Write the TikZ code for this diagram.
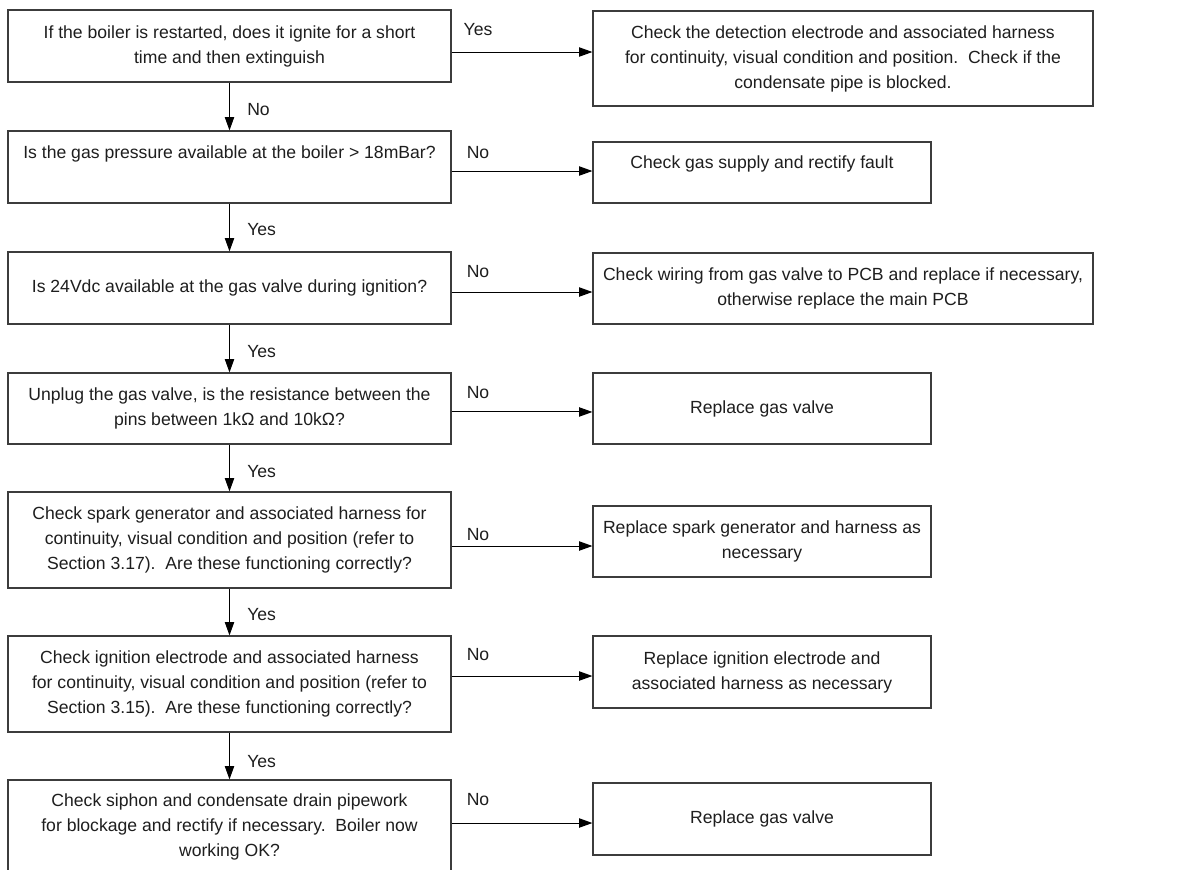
\documentclass[tikz,border=0pt]{standalone}
\usepackage{fontspec}
\setmainfont{Liberation Sans}
\usetikzlibrary{arrows.meta}
\definecolor{boxc}{HTML}{3C3C3C}
\definecolor{txtc}{HTML}{1E1E1E}
\newcommand\flowfont{\fontsize{13.2pt}{18.75pt}\selectfont}
\begin{document}
\begin{tikzpicture}[x=0.75pt,y=-0.75pt,
  box/.style 2 args={draw=boxc, line width=0.9pt, inner sep=0pt, align=center,
    text=txtc, font=\flowfont, minimum width=#1*0.75pt, minimum height=#2*0.75pt},
  txt/.style={inner sep=0pt, align=center, text=txtc, font=\flowfont},
  lbl/.style={inner sep=0pt, text=txtc, font=\flowfont},
  arr/.style={draw=black, line width=0.75pt, -{Triangle[length=10pt,width=7pt]}}]
\useasboundingbox (0,0) rectangle (1203,869);
\fill[white] (0,0) rectangle (1203,869);
\clip (0,0) rectangle (1203,869);

% left column
\node[box={443}{72}] (L1) at (229.5,46) {If the boiler is restarted, does it ignite for a short\\time and then extinguish};
\node[box={443}{72}] (L2) at (229.5,167) {};
\node[txt] (L2t) at (229.5,154) {Is the gas pressure available at the boiler > 18mBar?};
\node[box={443}{72}] (L3) at (229.5,288) {Is 24Vdc available at the gas valve during ignition?};
\node[box={443}{71}] (L4) at (229.5,408.5) {Unplug the gas valve, is the resistance between the\\pins between 1k\char"03A9{} and 10k\char"03A9?};
\node[box={443}{96}] (L5) at (229.5,540) {Check spark generator and associated harness for\\continuity, visual condition and position (refer to\\Section 3.17).\ \ Are these functioning correctly?};
\node[box={443}{96}] (L6) at (229.5,684) {Check ignition electrode and associated harness\\for continuity, visual condition and position (refer to\\Section 3.15).\ \ Are these functioning correctly?};
\node[box={443}{120}] (L7) at (229.5,840) {};
\node[txt] (L7t) at (229.5,827) {Check siphon and condensate drain pipework\\for blockage and rectify if necessary.\ \ Boiler now\\working OK?};

% right column
\node[box={500}{95}] (R1) at (843,58.5) {Check the detection electrode and associated harness\\for continuity, visual condition and position.\ \ Check if the\\condensate pipe is blocked.};
\node[box={338}{61}] (R2) at (762,172.5) {};
\node[txt] (R2t) at (762,164) {Check gas supply and rectify fault};
\node[box={500}{71}] (R3) at (843,288.5) {Check wiring from gas valve to PCB and replace if necessary,\\otherwise replace the main PCB};
\node[box={338}{71}] (R4) at (762,408.5) {Replace gas valve};
\node[box={338}{71}] (R5) at (762,541.5) {Replace spark generator and harness as\\necessary};
\node[box={338}{72}] (R6) at (762,672) {Replace ignition electrode and\\associated harness as necessary};
\node[box={338}{72}] (R7) at (762,819) {Replace gas valve};

% down arrows
\draw[arr] (L1.south) -- (L2.north);
\draw[arr] (L2.south) -- (L3.north);
\draw[arr] (L3.south) -- (L4.north);
\draw[arr] (L4.south) -- (L5.north);
\draw[arr] (L5.south) -- (L6.north);
\draw[arr] (L6.south) -- (L7.north);
\node[lbl, anchor=west] (d1) at (247,110) {No};
\node[lbl, anchor=west] (d2) at (247,230) {Yes};
\node[lbl, anchor=west] (d3) at (247,352) {Yes};
\node[lbl, anchor=west] (d4) at (247,472) {Yes};
\node[lbl, anchor=west] (d5) at (247,615) {Yes};
\node[lbl, anchor=west] (d6) at (247,762) {Yes};

% right arrows
\coordinate (a1) at ([yshift=-4.5pt]L1.east);
\coordinate (a2) at ([yshift=-3pt]L2.east);
\coordinate (a3) at ([yshift=-3pt]L3.east);
\coordinate (a4) at ([yshift=-2.6pt]L4.east);
\coordinate (a5) at ([yshift=-4.5pt]L5.east);
\coordinate (a6) at ([yshift=6pt]L6.east);
\coordinate (a7) at ([yshift=12.75pt]L7.east);
\draw[arr] (a1) -- (a1 -| R1.west);
\draw[arr] (a2) -- (a2 -| R2.west);
\draw[arr] (a3) -- (a3 -| R3.west);
\draw[arr] (a4) -- (a4 -| R4.west);
\draw[arr] (a5) -- (a5 -| R5.west);
\draw[arr] (a6) -- (a6 -| R6.west);
\draw[arr] (a7) -- (a7 -| R7.west);
\node[lbl] (r1) at (478,30) {Yes};
\node[lbl] (r2) at (478,153) {No};
\node[lbl] (r3) at (478,272) {No};
\node[lbl] (r4) at (478,393) {No};
\node[lbl] (r5) at (478,535) {No};
\node[lbl] (r6) at (478,655) {No};
\node[lbl] (r7) at (478,800) {No};
\end{tikzpicture}
\end{document}
